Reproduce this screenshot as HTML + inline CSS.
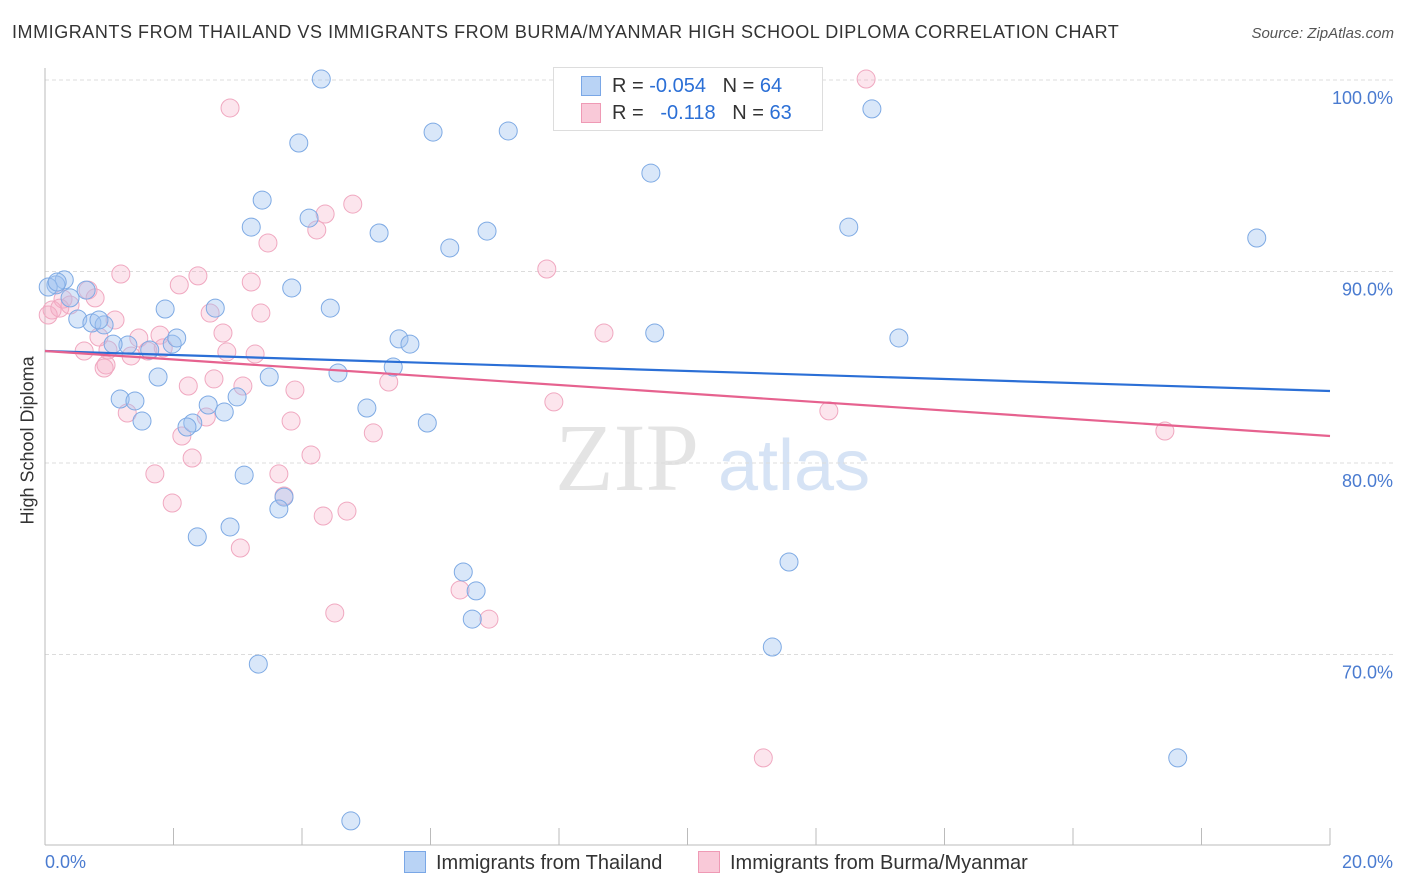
<!DOCTYPE html>
<html><head><meta charset="utf-8"><style>
body{margin:0;background:#fff;font-family:"Liberation Sans",sans-serif;}
#wrap{position:relative;width:1406px;height:892px;overflow:hidden;}
.t{position:absolute;white-space:nowrap;}
</style></head><body>
<div id="wrap">
<div class="t" style="left:12px;top:22px;font-size:18px;color:#333;letter-spacing:0.55px;">IMMIGRANTS FROM THAILAND VS IMMIGRANTS FROM BURMA/MYANMAR HIGH SCHOOL DIPLOMA CORRELATION CHART</div>
<div class="t" style="right:12px;top:25px;font-size:15px;color:#555;font-style:italic;">Source: ZipAtlas.com</div>
<svg id="svg" width="1406" height="892" style="position:absolute;left:0;top:0"></svg>
</div>
<script>
const yTicks=[100,90,80,70];
const yTickLabels=["100.0%","90.0%","80.0%","70.0%"];
const blueX=[4.30,3.95,6.04,7.21,3.38,3.21,4.11,5.20,6.30,6.88,9.43,12.51,12.87,18.86,0.30,0.17,0.64,0.39,3.84,2.65,1.87,4.44,0.51,0.73,0.92,0.84,1.29,1.06,1.63,1.98,2.05,5.51,5.68,9.49,13.29,1.76,3.49,4.56,5.42,1.17,1.40,2.99,2.54,2.79,5.01,1.51,2.30,2.21,5.95,3.10,3.72,3.64,2.88,2.37,6.51,6.71,11.58,6.65,11.32,3.32,17.63,4.76,0.05,0.19];
const blueY=[100.05,96.71,97.28,97.34,93.73,92.32,92.79,92.01,91.23,92.11,95.14,92.32,98.49,91.75,89.56,89.30,89.03,88.62,89.14,88.09,88.04,88.09,87.52,87.31,87.21,87.47,86.16,86.21,85.90,86.21,86.53,86.48,86.21,86.79,86.53,84.49,84.49,84.70,85.01,83.34,83.24,83.45,83.03,82.66,82.87,82.19,82.09,81.88,82.09,79.37,78.22,77.60,76.66,76.14,74.31,73.32,74.83,71.85,70.39,69.50,64.60,61.31,89.19,89.45];
const pinkX=[2.88,12.78,4.79,4.36,4.23,3.47,7.81,1.18,2.38,2.09,3.21,0.67,0.78,0.28,0.39,0.11,0.05,0.23,2.57,3.36,1.09,2.77,8.70,1.79,1.46,0.61,0.84,0.98,1.60,1.84,2.83,3.27,1.34,0.95,0.92,2.63,2.23,3.08,3.89,5.35,7.92,12.20,17.43,1.28,2.51,3.83,2.13,5.11,2.29,4.14,1.71,3.64,1.98,3.72,4.33,4.70,3.04,6.46,6.91,4.51,11.18,9.99];
const pinkY=[98.54,100.05,93.52,93.00,92.17,91.49,90.13,89.87,89.77,89.30,89.45,89.03,88.62,88.56,88.25,87.99,87.73,88.09,87.83,87.83,87.47,86.79,86.79,86.68,86.53,85.85,86.58,85.90,85.85,86.01,85.80,85.69,85.59,85.12,84.96,84.39,84.02,84.02,83.81,84.23,83.19,82.72,81.67,82.61,82.40,82.19,81.41,81.57,80.26,80.42,79.43,79.43,77.91,78.28,77.23,77.49,75.56,73.37,71.85,72.17,64.60,100.05];
const blueTrend=[85.85,83.76];
const pinkTrend=[85.85,81.41];
const X0=45,X1=1330;
const xs=v=>X0+v/20*(X1-X0);
const ys=v=>80+(100-v)*19.15;
const svg=document.getElementById('svg');
const NS='http://www.w3.org/2000/svg';
function mk(tag,attrs,parent){const e=document.createElementNS(NS,tag);for(const k in attrs)e.setAttribute(k,attrs[k]);(parent||svg).appendChild(e);return e;}
let w=mk('text',{x:555,y:490,'font-family':'Liberation Serif,serif','font-size':96,fill:'#e4e4e4'});w.textContent='ZIP';


let w2=mk('text',{x:718,y:490,'font-family':'Liberation Sans,sans-serif','font-size':72,fill:'#d6e3f5'});w2.textContent='atlas';


yTicks.forEach((v,i)=>{
 const g=mk('line',{x1:45,x2:1393,y1:ys(v),y2:ys(v),stroke:'#dcdcdc','stroke-dasharray':'4,3'});
 
 
 const t=mk('text',{x:1393,y:ys(v)+24,'text-anchor':'end','font-size':18,fill:'#4a7bd0','font-family':'Liberation Sans,sans-serif'});
 t.textContent=yTickLabels[i];
 
 
});
const ax=mk('line',{x1:45,x2:45,y1:68,y2:845,stroke:'#bbb'});


const bx=mk('line',{x1:45,x2:1330,y1:845,y2:845,stroke:'#bbb'});


for(let i=0;i<=10;i++){const tk=mk('line',{x1:xs(i*2),x2:xs(i*2),y1:828,y2:845,stroke:'#bbb'});
 
 }
function pts(X,Y,fill,stroke,name){X.forEach((x,i)=>{const c=mk('circle',{cx:xs(x),cy:ys(Y[i]),r:9,fill:fill,stroke:stroke,'stroke-width':1});
 
 });}
pts(pinkX,pinkY,'rgba(245,170,195,0.3)','#f0a8c0','point-burma');
pts(blueX,blueY,'rgba(160,196,240,0.4)','#7eaae4','point-thailand');
const l1=mk('line',{x1:xs(0),x2:xs(20),y1:ys(blueTrend[0]),y2:ys(blueTrend[1]),stroke:'#2b6fd6','stroke-width':2.2});


const l2=mk('line',{x1:xs(0),x2:xs(20),y1:ys(pinkTrend[0]),y2:ys(pinkTrend[1]),stroke:'#e6628f','stroke-width':2.2});


</script>
<div class="t" style="left:-42px;top:444px;font-size:18px;color:#333;transform:rotate(-90deg);width:140px;text-align:center;">High School Diploma</div>
<div class="t" style="left:45px;top:852px;font-size:18px;color:#4a7bd0;">0.0%</div>
<div class="t" style="right:13px;top:852px;font-size:18px;color:#4a7bd0;">20.0%</div>
<div style="position:absolute;left:553px;top:67px;width:268px;height:62px;border:1px solid #ddd;background:#fff;font-size:20px;">
 <div style="position:absolute;left:27px;top:8px;width:18px;height:18px;background:#b9d3f5;border:1px solid #7aa7e6;"></div>
 <div class="t" style="left:58px;top:7px;color:#333;">R = <span style="color:#2b6fd6">-0.054</span>&nbsp;&nbsp;&nbsp;N = <span style="color:#2b6fd6">64</span></div>
 <div style="position:absolute;left:27px;top:35px;width:18px;height:18px;background:#f9c9d8;border:1px solid #ef9ab5;"></div>
 <div class="t" style="left:58px;top:34px;color:#333;">R = &nbsp;&nbsp;<span style="color:#2b6fd6">-0.118</span>&nbsp;&nbsp;&nbsp;N = <span style="color:#2b6fd6">63</span></div>
</div>
<div style="position:absolute;left:404px;top:851px;font-size:20px;color:#333;">
 <span style="position:absolute;left:0;top:0;white-space:nowrap;"><span style="display:inline-block;width:20px;height:20px;background:#b9d3f5;border:1px solid #7aa7e6;vertical-align:-4px;margin-right:10px;"></span>Immigrants from Thailand</span>
 <span style="position:absolute;left:294px;top:0;white-space:nowrap;"><span style="display:inline-block;width:20px;height:20px;background:#f9c9d8;border:1px solid #ef9ab5;vertical-align:-4px;margin-right:10px;"></span>Immigrants from Burma/Myanmar</span>
</div>
</body></html>
